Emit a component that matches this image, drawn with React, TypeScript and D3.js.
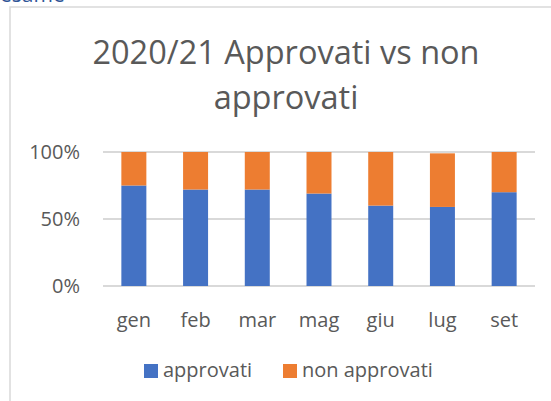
import React from "react";
import * as d3 from "d3";

const months = ["gen", "feb", "mar", "mag", "giu", "lug", "set"];
const approvati = [0.75, 0.72, 0.72, 0.69, 0.6, 0.59, 0.7];
const nonApprovati = [0.25, 0.28, 0.28, 0.31, 0.4, 0.4, 0.3];
const yTicks = [0, 0.5, 1];
const seriesNames = ["approvati", "non approvati"];
const colors = ["#4472C4", "#ED7D31"];
const titleLines = ["2020/21 Approvati vs non", "approvati"];

const W = 551;
const H = 401;
const FONT = "'Open Sans', sans-serif";
const TEXT = "#595959";

export default function App() {
  const x = d3
    .scaleBand<string>()
    .domain(months)
    .range([103, 535])
    .paddingInner(0.595)
    .paddingOuter(0.2975);
  const y = d3.scaleLinear().domain([0, 1]).range([286, 152]);
  const fmt = d3.format(".0%");

  const rows = months.map((m, i) => ({ m, a: approvati[i], n: nonApprovati[i] }));
  const stack = d3.stack<any>().keys(["a", "n"])(rows as any);

  return (
    <svg
      width={W}
      height={H}
      style={{ position: "absolute", left: 0, top: 0, background: "#fff" }}
    >
      <text x={0} y={1.5} fontFamily={FONT} fontSize={21} fill="#2F5597">
        esame
      </text>
      <rect x={10} y={7} width={600} height={450} fill="#fff" stroke="#d9d9d9" strokeWidth={1.5} />
      {titleLines.map((t, i) => (
        <text
          key={i}
          x={286}
          y={64 + i * 45}
          textAnchor="middle"
          fontFamily={FONT}
          fontSize={32.5}
          fill={TEXT}
        >
          {t}
        </text>
      ))}
      {yTicks.map((t) => (
        <g key={t}>
          <line x1={103} x2={535} y1={y(t)} y2={y(t)} stroke="#d9d9d9" strokeWidth={2} />
          <text
            x={80}
            y={y(t) + 7}
            textAnchor="end"
            fontFamily={FONT}
            fontSize={20}
            fill={TEXT}
          >
            {fmt(t)}
          </text>
        </g>
      ))}
      {stack.map((s, si) =>
        s.map((d: any, i: number) => (
          <rect
            key={si + "-" + i}
            x={x(months[i])}
            width={x.bandwidth()}
            y={y(d[1])}
            height={y(d[0]) - y(d[1])}
            fill={colors[si]}
          />
        ))
      )}
      {months.map((m) => (
        <text
          key={m}
          x={(x(m) as number) + x.bandwidth() / 2}
          y={327}
          textAnchor="middle"
          fontFamily={FONT}
          fontSize={20}
          fill={TEXT}
        >
          {m}
        </text>
      ))}
      {seriesNames.map((n, i) => {
        const lx = [144, 283][i];
        return (
          <g key={n}>
            <rect x={lx} y={364} width={14} height={14} fill={colors[i]} />
            <text x={lx + 19} y={377} fontFamily={FONT} fontSize={20} fill={TEXT}>
              {n}
            </text>
          </g>
        );
      })}
    </svg>
  );
}
